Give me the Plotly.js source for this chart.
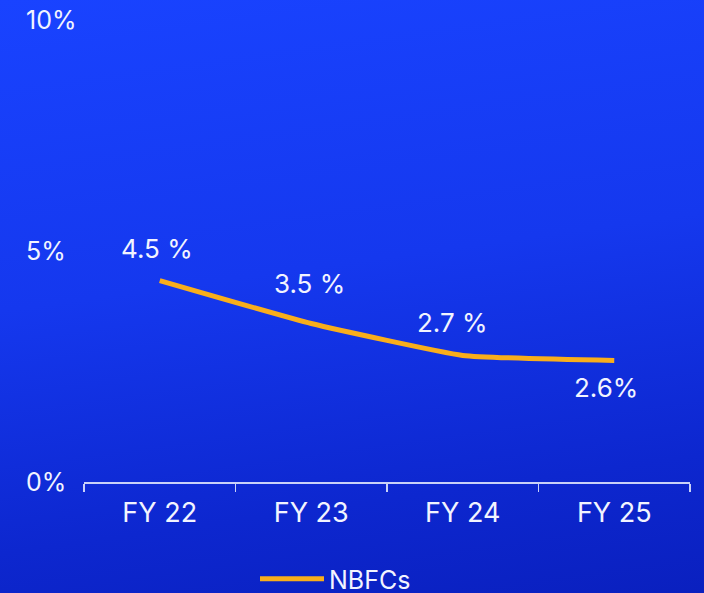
<!DOCTYPE html>
<html>
<head>
<meta charset="utf-8">
<script src="https://cdn.plot.ly/plotly-3.0.1.min.js"></script>
<style>
  html, body { margin:0; padding:0; }
  body { width:704px; height:593px; overflow:hidden;
    background: linear-gradient(172deg, #1943ff 0%, #1538ee 45%, #0d27cf 80%, #0a20bf 100%); }
  #chart { width:704px; height:593px; }
</style>
</head>
<body>
<div id="chart"></div>
<script>
// Data
const categories = ["FY 22", "FY 23", "FY 24", "FY 25"];
const nbfcValues = [4.36, 3.43, 2.74, 2.63];
const nbfcLabels = ["4.5 %", "3.5 %", "2.7 %", "2.6%"];
const seriesName = "NBFCs";
const yTickValues = [0, 5, 10];
const yTickLabels = ["0%", "5%", "10%"];

const textColor = "#f2f4ff";
const lineColor = "#F9AE1B";
const fontFamily = "Inter, Roboto, sans-serif";

const trace = {
  x: categories,
  y: nbfcValues,
  type: "scatter",
  mode: "lines",
  name: seriesName,
  line: { color: lineColor, width: 5, shape: "spline", smoothing: 0.4 },
  hoverinfo: "skip"
};

// label offsets (pixels) relative to the points
const labelShiftX = [-3, -2, -10, -8];
const labelShiftY = [32, 40, 33, -27];

const annotations = [];
categories.forEach((c, i) => {
  annotations.push({
    x: c, y: nbfcValues[i], xref: "x", yref: "y",
    text: nbfcLabels[i], showarrow: false,
    xshift: labelShiftX[i], yshift: labelShiftY[i],
    font: { family: fontFamily, size: 26, color: textColor }
  });
});
yTickValues.forEach((v, i) => {
  annotations.push({
    x: 0, y: v, xref: "paper", yref: "y",
    xanchor: "left", yanchor: "middle",
    xshift: -60,
    text: yTickLabels[i], showarrow: false,
    font: { family: fontFamily, size: 25, color: textColor }
  });
});

const layout = {
  width: 704, height: 593,
  margin: { l: 84, r: 14, t: 20, b: 111 },
  paper_bgcolor: "rgba(0,0,0,0)",
  plot_bgcolor: "rgba(0,0,0,0)",
  showlegend: true,
  legend: {
    orientation: "h",
    xref: "container", yref: "container",
    x: 255 / 704, xanchor: "left",
    y: 1 - 579 / 593, yanchor: "middle",
    itemwidth: 64,
    font: { family: fontFamily, size: 25, color: textColor },
    bgcolor: "rgba(0,0,0,0)"
  },
  xaxis: {
    type: "category",
    range: [-0.5, 3.5],
    tickson: "boundaries",
    ticks: "outside",
    ticklen: 8,
    tickwidth: 1.5,
    tickcolor: "rgba(235,240,255,0.85)",
    showline: true,
    linecolor: "rgba(235,240,255,0.85)",
    linewidth: 1.5,
    showgrid: false,
    zeroline: false,
    ticklabelstandoff: 6,
    automargin: false,
    tickfont: { family: fontFamily, size: 27, color: textColor },
    fixedrange: true
  },
  yaxis: {
    range: [0, 10],
    showticklabels: false,
    showgrid: false,
    zeroline: false,
    showline: false,
    ticks: "",
    automargin: false,
    fixedrange: true
  },
  annotations: annotations
};

Plotly.newPlot("chart", [trace], layout, { displayModeBar: false, staticPlot: true });
</script>
</body>
</html>
